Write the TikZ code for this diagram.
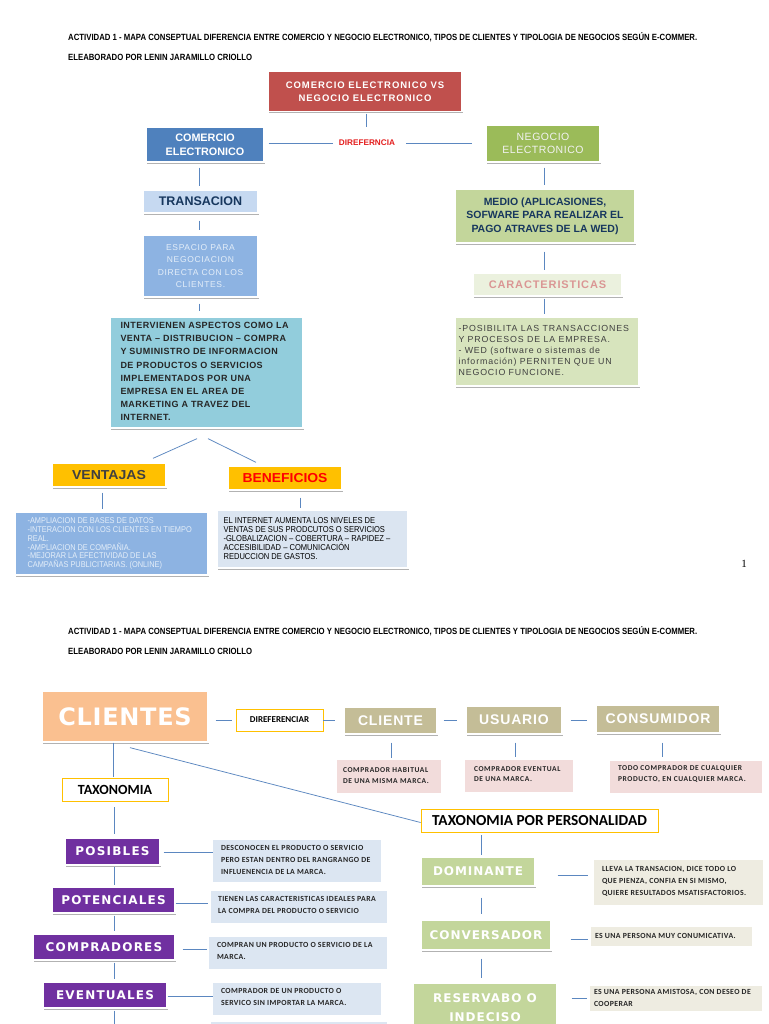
\documentclass[tikz,border=0pt]{standalone}
\usepackage{fontspec}
\usepackage{graphicx}
\setmainfont{Liberation Sans}
\newfontfamily\calfam{Carlito}
\newfontfamily\djvfam{DejaVu Sans}
\newfontfamily\srffam{Liberation Serif}
\newfontfamily\narrowfam[FakeStretch=0.88]{Liberation Sans}
\usetikzlibrary{shadows,calc}
\definecolor{cred}{HTML}{C0504D}
\definecolor{cblue}{HTML}{4F81BD}
\definecolor{cgreen}{HTML}{9BBB59}
\definecolor{ctra}{HTML}{C6D9F1}
\definecolor{cnavy}{HTML}{17375E}
\definecolor{cesp}{HTML}{8DB3E2}
\definecolor{cesptxt}{HTML}{E4EEF9}
\definecolor{ccyan}{HTML}{92CDDC}
\definecolor{cmedio}{HTML}{C3D69B}
\definecolor{ccar}{HTML}{EBF1DE}
\definecolor{ccartxt}{HTML}{DA9694}
\definecolor{cpos}{HTML}{D7E4BD}
\definecolor{corange}{HTML}{FFC000}
\definecolor{cbentxt}{HTML}{DBE5F1}
\definecolor{cdif}{HTML}{E41E1E}
\definecolor{cline}{HTML}{5B87C0}
\definecolor{cpeach}{HTML}{FAC090}
\definecolor{ctan}{HTML}{C4BD97}
\definecolor{cpink}{HTML}{F2DCDB}
\definecolor{cpurple}{HTML}{7030A0}
\definecolor{cdesc}{HTML}{DCE6F2}
\definecolor{cbeige}{HTML}{EEECE1}
\definecolor{cdark}{HTML}{262626}
\begin{document}
\begin{tikzpicture}[x=1pt,y=-1pt,
  box/.style={draw=white, line width=1.3pt, inner sep=0pt, align=center,
    drop shadow={shadow xshift=0.9pt, shadow yshift=-1.6pt, opacity=0.3, fill=black}},
  flat/.style={inner sep=0pt, draw=none},
  ybox/.style={draw=corange, line width=0.8pt, fill=white, inner sep=0pt},
  txt/.style={inner sep=0pt, align=left, anchor=west},
  conn/.style={draw=cline, line width=0.75pt},
  hdr/.style={anchor=base west, inner sep=0pt},
  dtxt/.style={txt, text=cdark, font=\calfam\bfseries\fontsize{7.8}{12}\selectfont\addfontfeatures{LetterSpace=5}},
  plab/.style={box, fill=cpurple, text=white, font=\djvfam\bfseries\fontsize{12}{13}\selectfont\addfontfeatures{LetterSpace=10}},
  glab/.style={box, fill=cmedio, text=white, font=\djvfam\bfseries\fontsize{12}{19}\selectfont\addfontfeatures{LetterSpace=8}},
  tlab/.style={box, fill=ctan, text=white, font=\bfseries\fontsize{14}{15}\selectfont\addfontfeatures{LetterSpace=6}}
]
\path[use as bounding box, fill=white] (0,0) rectangle (768,1024);
\clip (0,0) rectangle (768,1024);

% ---------------- PAGE 1 ----------------
\node[hdr] (h1) at (68,40.5) {\resizebox{629pt}{\height}{\bfseries\fontsize{9}{10}\selectfont ACTIVIDAD 1 - MAPA CONSEPTUAL DIFERENCIA ENTRE COMERCIO Y NEGOCIO ELECTRONICO, TIPOS DE CLIENTES Y TIPOLOGIA DE NEGOCIOS SEGÚN E-COMMER.}};
\node[hdr] (h2) at (68,60.5) {\resizebox{184pt}{\height}{\bfseries\fontsize{9}{10}\selectfont ELEABORADO POR LENIN JARAMILLO CRIOLLO}};

\node[box, fill=cred, minimum width=194pt, minimum height=40pt, text=white,
  font=\bfseries\fontsize{9.5}{13}\selectfont\addfontfeatures{LetterSpace=10}] (red) at (365,91.5) {COMERCIO ELECTRONICO VS\\NEGOCIO ELECTRONICO};
\coordinate (stub) at (366,127);
\draw[conn] ($(red.south)+(1,1.5)$) -- (stub);

\node[box, fill=cblue, minimum width=118pt, minimum height=35pt, text=white,
  font=\bfseries\fontsize{10.8}{14.3}\selectfont] (com) at (205,144.5) {COMERCIO\\ELECTRONICO};
\node[flat, text=cdif, font=\bfseries\fontsize{8.2}{9}\selectfont] (dif) at (367,143) {DIREFERNCIA};
\node[box, fill=cgreen, minimum width=114pt, minimum height=37pt, text=white!95!black,
  font=\fontsize{10.5}{13.3}\selectfont\addfontfeatures{LetterSpace=5}] (neg) at (543,143.5) {NEGOCIO\\ELECTRONICO};
\draw[conn] ($(com.east |- dif)+(4,0)$) -- ($(dif.west)+(-6,0)$);
\draw[conn] ($(dif.east)+(11,0)$) -- ($(neg.west |- dif)+(-13,0)$);

% left column
\coordinate (cl) at (199,0);
\node[box, fill=ctra, minimum width=115pt, minimum height=23pt, text=cnavy,
  font=\bfseries\fontsize{12.5}{14}\selectfont] (tra) at (200.5,201.5) {TRANSACION};
\node[box, fill=cesp, minimum width=115pt, minimum height=62pt, text=cesptxt,
  font=\fontsize{8.5}{12.6}\selectfont\addfontfeatures{LetterSpace=8}] (esp) at (200.5,266) {ESPACIO PARA\\NEGOCIACION\\DIRECTA CON LOS\\CLIENTES.};
\node[box, fill=ccyan, minimum width=193pt, minimum height=111pt] (cyan) at (206.5,372.5) {};
\node[txt, text=cdark, font=\bfseries\fontsize{9}{13.1}\selectfont\addfontfeatures{LetterSpace=5}] (cyant) at ($(cyan.west)+(11,-1)$)
  {INTERVIENEN ASPECTOS COMO LA\\VENTA – DISTRIBUCION – COMPRA\\Y SUMINISTRO DE INFORMACION\\DE PRODUCTOS O SERVICIOS\\IMPLEMENTADOS POR UNA\\EMPRESA EN EL AREA DE\\MARKETING A TRAVEZ DEL\\INTERNET.};
\draw[conn] ($(com.south -| cl)+(0,5)$) -- ($(tra.north -| cl)+(0,-3)$);
\draw[conn] ($(tra.south -| cl)+(0,7)$) -- ($(esp.north -| cl)+(0,-4)$);
\draw[conn] ($(esp.south -| cl)+(0,6)$) -- ($(cyan.north -| cl)+(0,-5)$);

\node[box, fill=corange, minimum width=114pt, minimum height=24pt, text=black!75] (ven) at (109,475)
  {\resizebox{74pt}{\height}{\bfseries\fontsize{13}{14}\selectfont VENTAJAS}};
\node[box, fill=corange, minimum width=114pt, minimum height=24pt, text=red] (ben) at (285,478)
  {\resizebox{85pt}{\height}{\bfseries\fontsize{13}{14}\selectfont BENEFICIOS}};
\draw[conn] ($(cyan.south)+(-9.5,10)$) -- ($(ven.north)+(44,-4)$);
\draw[conn] ($(cyan.south)+(1.5,10)$) -- ($(ben.north)+(-29,-3)$);

\node[box, fill=cesp, minimum width=193pt, minimum height=63pt] (vtx) at (111.5,543.5) {};
\node[txt, text=cesptxt, font=\narrowfam\fontsize{8.4}{8.9}\selectfont] (vtxt) at ($(vtx.west)+(13,0)$)
  {-AMPLIACION DE BASES DE DATOS\\-INTERACION CON LOS CLIENTES EN TIEMPO\\REAL.\\-AMPLIACION DE COMPAÑIA.\\-MEJORAR LA EFECTIVIDAD DE LAS\\CAMPAÑAS PUBLICITARIAS. (ONLINE)};
\node[box, fill=cbentxt, minimum width=191pt, minimum height=58pt] (btx) at (312.5,539) {};
\node[txt, text=black, font=\narrowfam\fontsize{8.6}{9}\selectfont] (btxt) at ($(btx.west)+(7,0)$)
  {EL INTERNET AUMENTA LOS NIVELES DE\\VENTAS DE SUS PRODCUTOS O SERVICIOS\\-GLOBALIZACION – COBERTURA – RAPIDEZ –\\ACCESIBILIDAD – COMUNICACIÓN\\REDUCCION DE GASTOS.};
\draw[conn] ($(ven.south)+(-7,5)$) -- ($(vtx.north)+(-9.5,-2)$);
\draw[conn] ($(ben.south)+(15,7)$) -- ($(btx.north)+(-12.5,-1)$);

% right column
\coordinate (cr) at (544,0);
\node[box, fill=cmedio, minimum width=180pt, minimum height=54pt, text=cnavy,
  font=\bfseries\fontsize{10.5}{13.7}\selectfont] (medio) at (545,216) {MEDIO (APLICASIONES,\\SOFWARE PARA REALIZAR EL\\PAGO ATRAVES DE LA WED)};
\node[box, fill=ccar, minimum width=149pt, minimum height=23pt, text=ccartxt,
  font=\bfseries\fontsize{11}{12}\selectfont\addfontfeatures{LetterSpace=8}] (car) at (547.5,284.5) {CARACTERISTICAS};
\node[box, fill=cpos, minimum width=184pt, minimum height=69pt] (pos) at (547,351.5) {};
\node[txt, text=black!75, font=\fontsize{8.8}{11}\selectfont\addfontfeatures{LetterSpace=10}] (post) at ($(pos.west)+(4,-1)$)
  {-POSIBILITA LAS TRANSACCIONES\\Y PROCESOS DE LA EMPRESA.\\- WED (software o sistemas de\\información) PERNITEN QUE UN\\NEGOCIO FUNCIONE.};
\draw[conn] ($(neg.south -| cr)+(0,5)$) -- ($(medio.north -| cr)+(0,-3)$);
\draw[conn] ($(medio.south -| cr)+(0,8)$) -- ($(car.north -| cr)+(0,-2)$);
\draw[conn] ($(car.south -| cr)+(0,2)$) -- ($(pos.north -| cr)+(0,-2)$);

\node[flat, font=\srffam\fontsize{11}{12}\selectfont] (pg) at (744,564) {1};

% ---------------- PAGE 2 ----------------
\node[hdr] (h3) at (68,634.5) {\resizebox{629pt}{\height}{\bfseries\fontsize{9}{10}\selectfont ACTIVIDAD 1 - MAPA CONSEPTUAL DIFERENCIA ENTRE COMERCIO Y NEGOCIO ELECTRONICO, TIPOS DE CLIENTES Y TIPOLOGIA DE NEGOCIOS SEGÚN E-COMMER.}};
\node[hdr] (h4) at (68,654.5) {\resizebox{184pt}{\height}{\bfseries\fontsize{9}{10}\selectfont ELEABORADO POR LENIN JARAMILLO CRIOLLO}};

\node[box, fill=cpeach, minimum width=166pt, minimum height=51pt, text=white,
  font=\djvfam\bfseries\fontsize{24}{26}\selectfont\addfontfeatures{LetterSpace=3}] (clientes) at (125,716.5) {CLIENTES};
\node[ybox, minimum width=87pt, minimum height=22pt, text=black,
  font=\calfam\bfseries\fontsize{9}{10}\selectfont] (diref) at (279.5,720) {DIREFERENCIAR};
\node[tlab, minimum width=93pt, minimum height=27pt] (cliente) at (390.5,720.5) {CLIENTE};
\node[tlab, minimum width=96pt, minimum height=28pt] (usuario) at (514,720) {USUARIO};
\node[tlab, minimum width=124pt, minimum height=28pt] (consumidor) at (658,719) {CONSUMIDOR};
\draw[conn] ($(clientes.east |- diref)+(7,0)$) -- ($(diref.west)+(-4,0)$);
\draw[conn] (diref.east) -- ($(cliente.west |- diref)+(-8,0)$);
\draw[conn] ($(cliente.east |- diref)+(6,0)$) -- ($(usuario.west |- diref)+(-8,0)$);
\draw[conn] ($(usuario.east |- diref)+(8,0)$) -- ($(consumidor.west |- diref)+(-8,0)$);

\node[flat, fill=cpink, minimum width=104pt, minimum height=33pt] (p1) at (389,776.5) {};
\node[dtxt, font=\calfam\bfseries\fontsize{7.5}{10.5}\selectfont\addfontfeatures{LetterSpace=8}] (p1t) at ($(p1.west)+(6,-1)$) {COMPRADOR HABITUAL\\DE UNA MISMA MARCA.};
\node[flat, fill=cpink, minimum width=108pt, minimum height=32pt] (p2) at (519,776) {};
\node[dtxt, font=\calfam\bfseries\fontsize{7.5}{10.5}\selectfont\addfontfeatures{LetterSpace=8}] (p2t) at ($(p2.west)+(9,-2)$) {COMPRADOR EVENTUAL\\DE UNA MARCA.};
\node[flat, fill=cpink, minimum width=152pt, minimum height=32pt] (p3) at (686,777) {};
\node[dtxt, font=\calfam\bfseries\fontsize{7.5}{11}\selectfont\addfontfeatures{LetterSpace=8}] (p3t) at ($(p3.west)+(8,-3)$) {TODO COMPRADOR DE CUALQUIER\\PRODUCTO, EN CUALQUIER MARCA.};
\draw[conn] ($(cliente.south)+(0.5,8)$) -- ($(cliente.south |- p1.north)+(0.5,-2)$);
\draw[conn] ($(usuario.south)+(1,8)$) -- ($(usuario.south |- p2.north)+(1,-3)$);
\draw[conn] ($(consumidor.south)+(4,9)$) -- ($(consumidor.south |- p3.north)+(4,-4)$);

\node[ybox, minimum width=106pt, minimum height=23pt, text=black,
  font=\calfam\bfseries\fontsize{14}{15}\selectfont] (tax) at (115,789.5) {TAXONOMIA};
\node[ybox, minimum width=237pt, minimum height=23pt, text=black,
  font=\calfam\bfseries\fontsize{15.3}{16}\selectfont] (tpp) at (539.5,820.5) {TAXONOMIA POR PERSONALIDAD};
\draw[conn] ($(clientes.south)+(-12,0)$) -- ($(clientes.south |- tax.north)+(-12,-1)$);
\draw[conn] ($(clientes.south)+(5,5)$) -- ($(tpp.west)+(0,2)$);

% taxonomia column
\coordinate (cp) at (114.5,0);
\node[plab, minimum width=95pt, minimum height=27pt] (posibles) at (112.5,851.5) {POSIBLES};
\node[plab, minimum width=123pt, minimum height=26pt] (potenciales) at (113.5,900) {POTENCIALES};
\node[plab, minimum width=142pt, minimum height=26pt] (compradores) at (104,947) {COMPRADORES};
\node[plab, minimum width=124pt, minimum height=26pt] (eventuales) at (105,995) {EVENTUALES};
\coordinate (bot) at (114.5,1026);
\draw[conn] ($(tax.south -| cp)+(0,6)$) -- ($(posibles.north -| cp)+(0,-3)$);
\draw[conn] ($(posibles.south -| cp)+(0,1)$) -- ($(potenciales.north -| cp)+(0,-1)$);
\draw[conn] ($(potenciales.south -| cp)+(0,2)$) -- ($(compradores.north -| cp)+(0,-2)$);
\draw[conn] ($(compradores.south -| cp)+(0,2)$) -- ($(eventuales.north -| cp)+(0,-2)$);
\draw[conn] ($(eventuales.south -| cp)+(0,2)$) -- (bot);

\node[flat, fill=cdesc, minimum width=168pt, minimum height=42pt] (d1) at (297,861) {};
\node[dtxt] (d1t) at ($(d1.west)+(8,-1)$) {DESCONOCEN EL PRODUCTO O SERVICIO\\PERO ESTAN DENTRO DEL RANGRANGO DE\\INFLUENENCIA DE LA MARCA.};
\node[flat, fill=cdesc, minimum width=176pt, minimum height=32pt] (d2) at (299,907) {};
\node[dtxt] (d2t) at ($(d2.west)+(7,-2)$) {TIENEN LAS CARACTERISTICAS IDEALES PARA\\LA COMPRA DEL PRODUCTO O SERVICIO};
\node[flat, fill=cdesc, minimum width=178pt, minimum height=32pt] (d3) at (298,953) {};
\node[dtxt] (d3t) at ($(d3.west)+(8,-2)$) {COMPRAN UN PRODUCTO O SERVICIO DE LA\\MARCA.};
\node[flat, fill=cdesc, minimum width=168pt, minimum height=32pt] (d4) at (297,999) {};
\node[dtxt] (d4t) at ($(d4.west)+(8,-2)$) {COMPRADOR DE UN PRODUCTO O\\SERVICO SIN IMPORTAR LA MARCA.};
\node[flat, fill=cdesc, minimum width=176pt, minimum height=20pt] (d5) at (299,1032) {};
\draw[conn] ($(posibles.east)+(3,0.5)$) -- ($(d1.west |- posibles.east)+(0,0.5)$);
\draw[conn] ($(potenciales.east)+(0,3)$) -- ($(d2.west |- potenciales.east)+(-3,3)$);
\draw[conn] ($(compradores.east)+(7,2)$) -- ($(d3.west |- compradores.east)+(-2,2)$);
\draw[conn] ($(eventuales.east)+(0,1)$) -- ($(d4.west |- eventuales.east)+(0,1)$);

% personalidad column
\coordinate (cg) at (481,0);
\node[glab, minimum width=114pt, minimum height=29pt] (dom) at (478,871.5) {DOMINANTE};
\node[glab, minimum width=130pt, minimum height=30pt] (conv) at (486,935) {CONVERSADOR};
\node[glab, minimum width=144pt, minimum height=50pt] (res) at (485,1008) {RESERVABO O\\INDECISO};
\draw[conn] ($(tpp.south -| cg)+(0,3)$) -- ($(dom.north -| cg)+(0,-1)$);
\draw[conn] ($(dom.south -| cg)+(0,11)$) -- ($(conv.north -| cg)+(0,-5)$);
\draw[conn] ($(conv.south -| cg)+(0,8)$) -- ($(res.north -| cg)+(0,-4)$);

\node[flat, fill=cbeige, minimum width=169pt, minimum height=45pt] (ddesc) at (678.5,882.5) {};
\node[dtxt] (ddt) at ($(ddesc.west)+(8,-1)$) {LLEVA LA TRANSACION, DICE TODO LO\\QUE PIENZA, CONFIA EN SI MISMO,\\QUIERE RESULTADOS MSATISFACTORIOS.};
\node[flat, fill=cbeige, minimum width=161pt, minimum height=19pt] (cdesc) at (671.5,936.5) {};
\node[dtxt] (cdt) at ($(cdesc.west)+(4,-0.5)$) {ES UNA PERSONA MUY CONUMICATIVA.};
\node[flat, fill=cbeige, minimum width=172pt, minimum height=25pt] (rdesc) at (676,998.5) {};
\node[dtxt] (rdt) at ($(rdesc.west)+(4,-1)$) {ES UNA PERSONA AMISTOSA, CON DESEO DE\\COOPERAR};
\draw[conn] ($(dom.east)+(22,3.5)$) -- ($(ddesc.west |- dom.east)+(-6,3.5)$);
\draw[conn] ($(conv.east)+(19,4)$) -- ($(cdesc.west |- conv.east)+(-3,4)$);
\draw[conn] ($(res.east)+(14,-10)$) -- ($(rdesc.west |- res.east)+(-3,-10)$);
\end{tikzpicture}
\end{document}
